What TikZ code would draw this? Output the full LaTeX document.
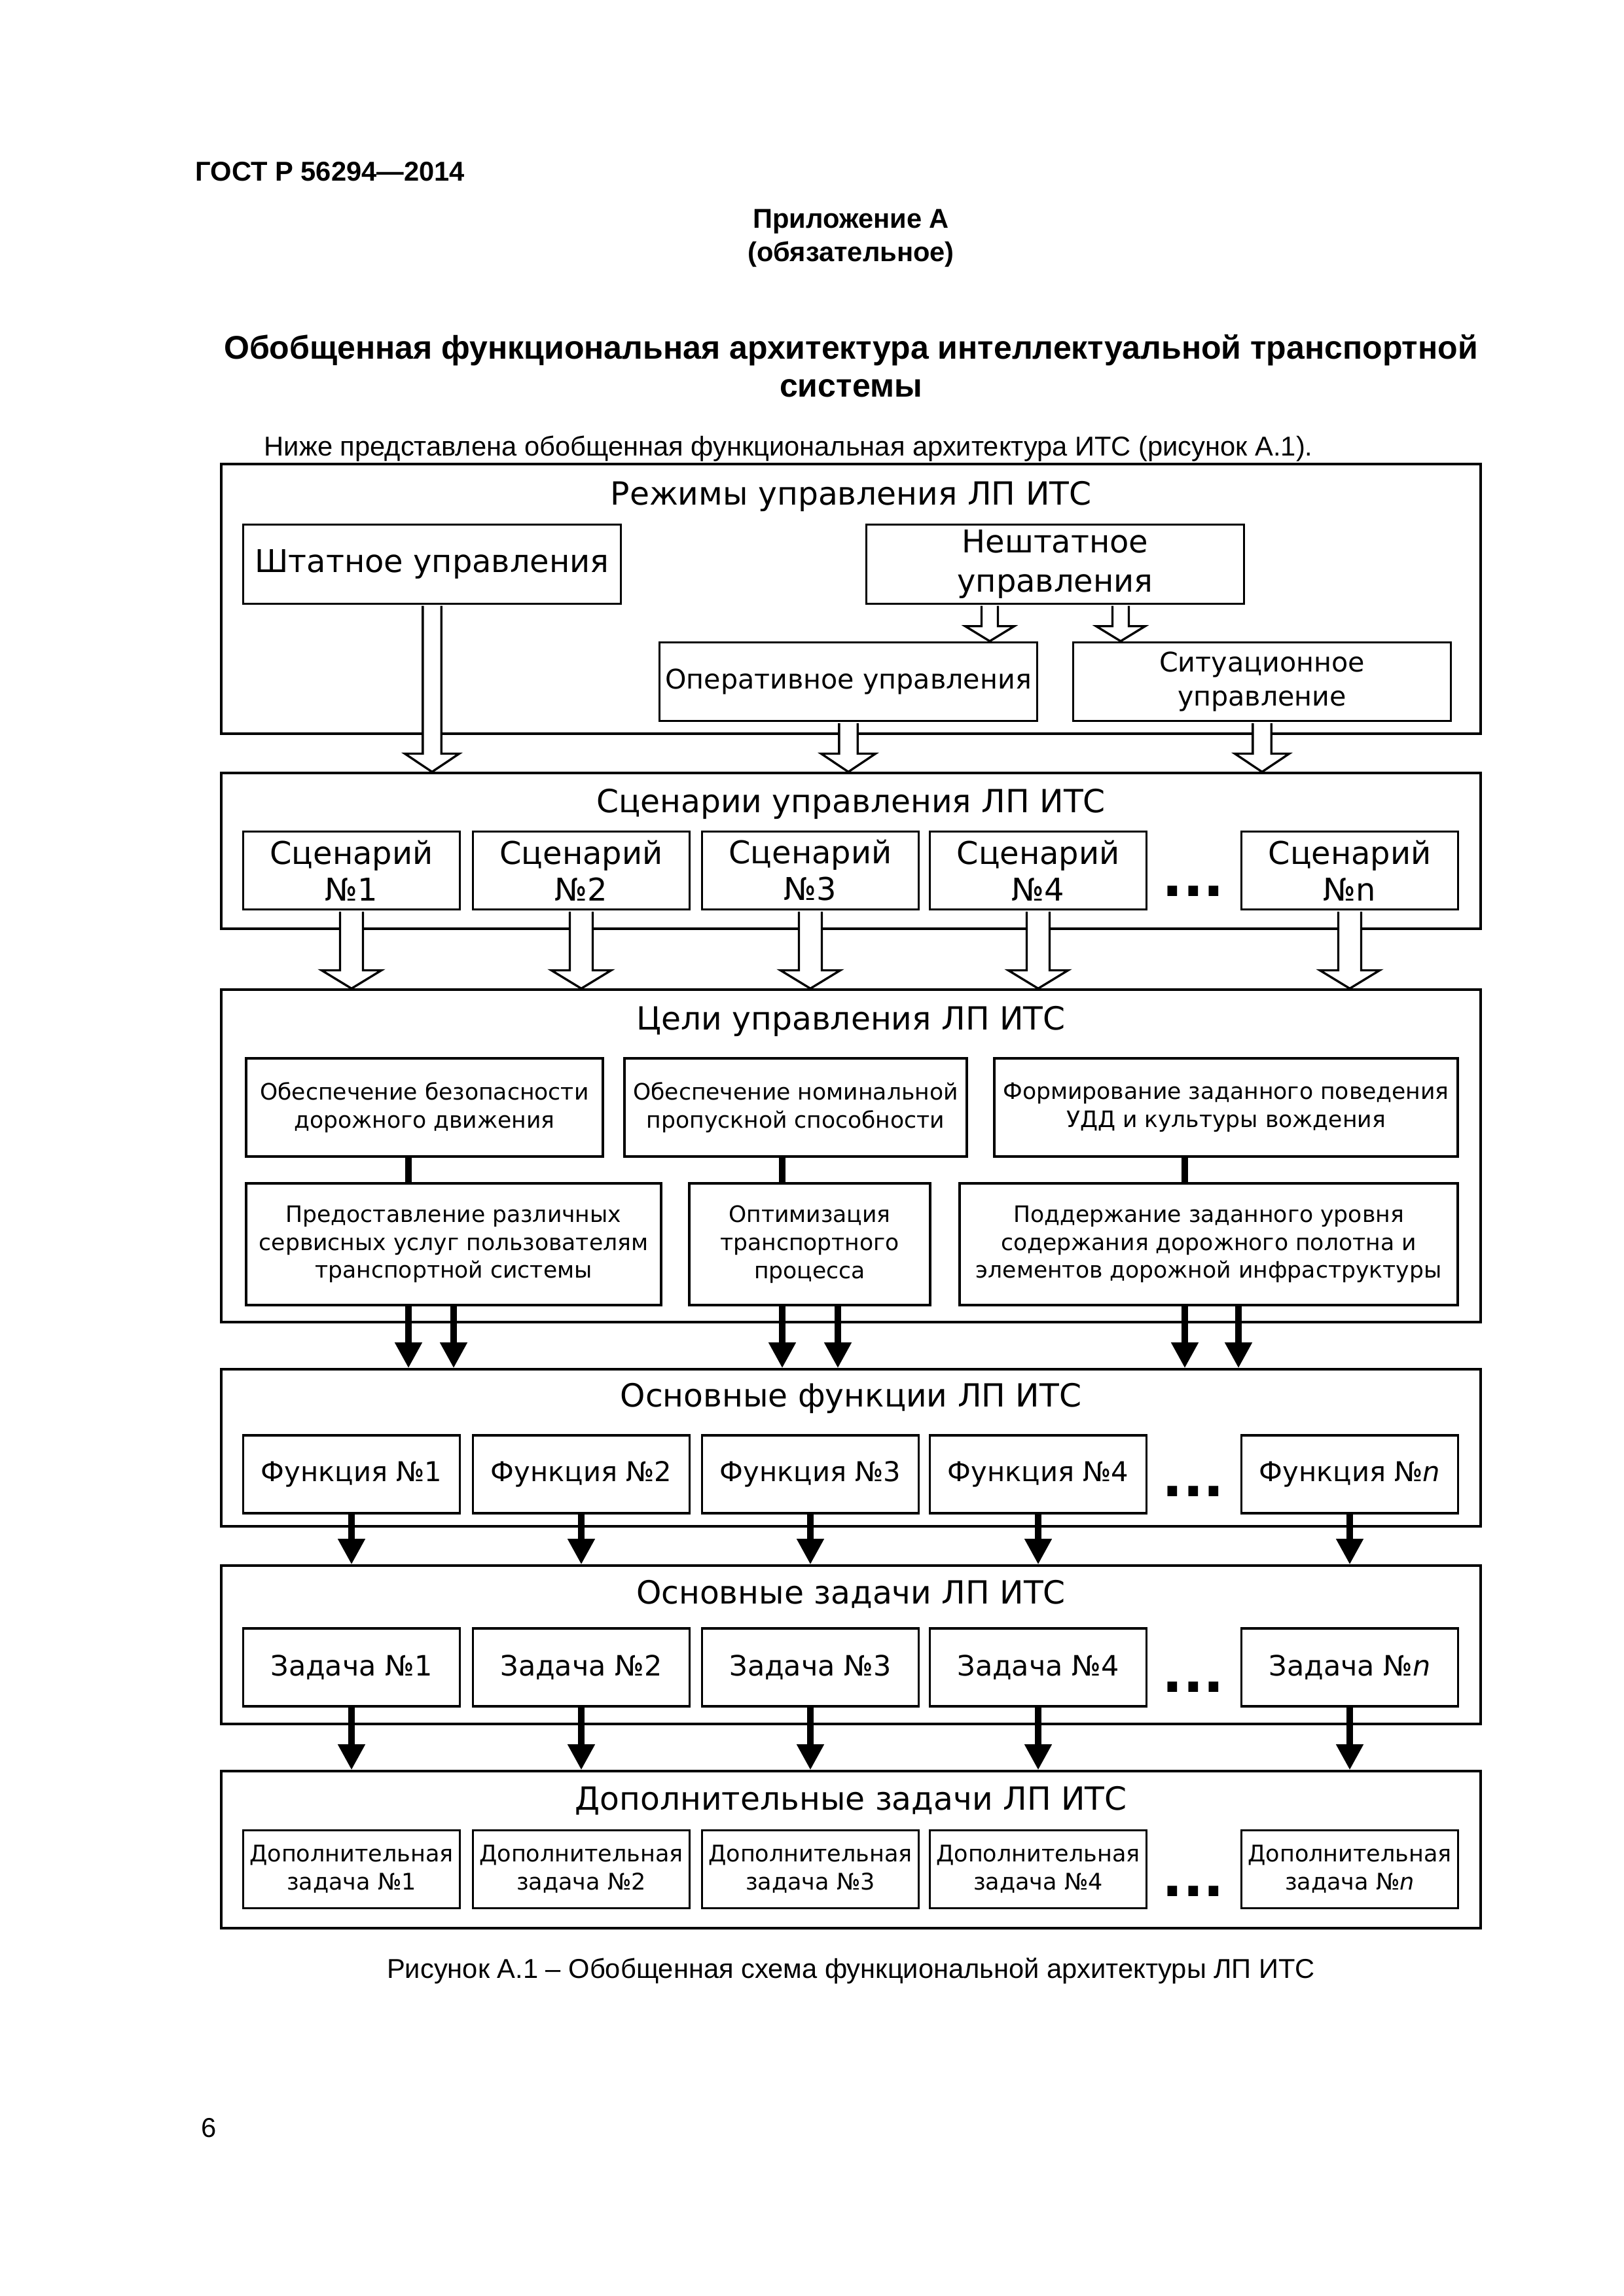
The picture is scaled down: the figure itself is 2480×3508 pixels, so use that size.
\documentclass[tikz,border=0pt]{standalone}
\usepackage{fontspec}
\setmainfont{Liberation Sans}
\newfontfamily\dv{DejaVu Sans}
\usetikzlibrary{arrows.meta,calc}

\begin{document}
\begin{tikzpicture}[x=0.24pt,y=-0.24pt,
	frame/.style={draw,line width=0.8pt,minimum width=461.76pt,inner sep=0pt},
	ttl/.style={font=\dv\fontsize{11.7}{14}\selectfont},
	box/.style={draw,line width=0.8pt,align=center,inner sep=0pt},
	mode/.style={box,minimum width=138.5pt,minimum height=28.9pt},
	cell/.style={box,minimum width=79.4pt,minimum height=28.6pt},
	goal/.style={box,font=\dv\fontsize{8.3}{10.3}\selectfont},
	dots/.style={font=\dv\bfseries\fontsize{20}{24}\selectfont,inner sep=0pt},
	arr/.style={line width=2.6pt,-{Triangle[length=9.4pt,width=9.4pt]}},
	link/.style={line width=2.6pt},
	hollow/.style n args={3}{line width=0.8pt,fill=white,to path={
		let \p1=(\tikztostart), \p2=(\tikztotarget) in
		(\x1-#1,\y1-0.4pt) -- (\x1-#1,\y2+#3) -- (\x1-#2,\y2+#3) -- (\x1,\y2)
		-- (\x1+#2,\y2+#3) -- (\x1+#1,\y2+#3) -- (\x1+#1,\y1-0.4pt)}}
]
	\useasboundingbox (0,0) rectangle (2480,3508);

	% page text
	\node[anchor=west,inner sep=0pt,font=\bfseries\fontsize{10}{12}\selectfont] (gost) at (298,262) {ГОСТ Р 56294—2014};
	\node[align=center,font=\bfseries\fontsize{10}{12.2}\selectfont] (app) at (1300,364) {Приложение А\\(обязательное)};
	\node[align=center,font=\bfseries\fontsize{12}{13.9}\selectfont] (title) at (1300,559)
		{Обобщенная функциональная архитектура интеллектуальной транспортной\\системы};
	\node[anchor=west,inner sep=0pt,font=\fontsize{10}{12}\selectfont] (intro) at (403,686)
		{Ниже представлена обобщенная функциональная архитектура ИТС (рисунок А.1).};

	% frames
	\node[frame,minimum height=98.88pt] (modes) at (1300,915) {};
	\node[frame,minimum height=57.12pt] (scens) at (1300,1300) {};
	\node[frame,minimum height=121.92pt] (goals) at (1300,1766) {};
	\node[frame,minimum height=57.6pt] (funcs) at (1300,2212) {};
	\node[frame,minimum height=58.08pt] (tasks) at (1300,2513) {};
	\node[frame,minimum height=57.6pt] (extras) at (1300,2826) {};

	\node[ttl] (modesttl) at (1300,758) {Режимы управления ЛП ИТС};
	\node[ttl] (scensttl) at (1300,1228) {Сценарии управления ЛП ИТС};
	\node[ttl] (goalsttl) at (1300,1560) {Цели управления ЛП ИТС};
	\node[ttl] (funcsttl) at (1300,2136) {Основные функции ЛП ИТС};
	\node[ttl] (tasksttl) at (1300,2436) {Основные задачи ЛП ИТС};
	\node[ttl] (extrasttl) at (1300,2751) {Дополнительные задачи ЛП ИТС};

	% modes
	\node[mode,font=\dv\fontsize{11.5}{14.2}\selectfont] (shtat) at (660,862) {Штатное управления};
	\node[mode,font=\dv\fontsize{11.5}{14.2}\selectfont] (nesht) at (1612,862) {Нештатное\\управления};
	\node[mode,font=\dv\fontsize{9.9}{12.4}\selectfont] (oper) at (1296,1041.5) {Оперативное управления};
	\node[mode,font=\dv\fontsize{9.9}{12.4}\selectfont] (sit) at (1928,1041.5) {Ситуационное\\управление};

	% scenarios, functions, tasks
	\foreach \x/\k [count=\i] in {537/1,888/2,1238/3,1586/4,2062/n}{
		\node[cell,font=\dv\fontsize{11.5}{13.5}\selectfont] (sc\i) at (\x,1330) {Сценарий\\№\k};
	}
	\foreach \x/\k [count=\i] in {537/1,888/2,1238/3,1586/4,2062/\textit{n}}{
		\node[cell,font=\dv\fontsize{10}{12}\selectfont] (fn\i) at (\x,2252.5) {Функция №\k};
		\node[cell,font=\dv\fontsize{10.3}{12}\selectfont] (tk\i) at (\x,2547.5) {Задача №\k};
		\node[cell,font=\dv\fontsize{8.4}{10.3}\selectfont] (ex\i) at (\x,2856) {Дополнительная\\задача №\k};
	}
	\node[dots] (scdots) at (1823,1362) {...};
	\node[dots] (fndots) at (1823,2279) {...};
	\node[dots] (tkdots) at (1823,2578) {...};
	\node[dots] (exdots) at (1823,2890) {...};

	% goals
	\node[goal,minimum width=130.8pt,minimum height=36pt] (g1) at (648.5,1692)
		{Обеспечение безопасности\\дорожного движения};
	\node[goal,minimum width=125.5pt,minimum height=36pt] (g2) at (1215.5,1692)
		{Обеспечение номинальной\\пропускной способности};
	\node[goal,minimum width=169.9pt,minimum height=36pt] (g3) at (1873,1692)
		{Формирование заданного поведения\\УДД и культуры вождения};
	\node[goal,minimum width=152.2pt,minimum height=44.6pt] (g4) at (693,1901)
		{Предоставление различных\\сервисных услуг пользователям\\транспортной системы};
	\node[goal,minimum width=88.3pt,minimum height=44.6pt] (g5) at (1237,1901)
		{Оптимизация\\транспортного\\процесса};
	\node[goal,minimum width=182.6pt,minimum height=44.6pt] (g6) at (1846.5,1901)
		{Поддержание заданного уровня\\содержания дорожного полотна и\\элементов дорожной инфраструктуры};

	\coordinate (x1) at (624,0);
	\coordinate (x2) at (693,0);
	\coordinate (x3) at (1195,0);
	\coordinate (x4) at (1280,0);
	\coordinate (x5) at (1810,0);
	\coordinate (x6) at (1892,0);

	% hollow arrows
	\draw[hollow={3pt}{9pt}{5.5pt}] ([xshift=-24pt]nesht.south) to ([xshift=-24pt]nesht.south |- oper.north);
	\draw[hollow={3pt}{9pt}{5.5pt}] ([xshift=24pt]nesht.south) to ([xshift=24pt]nesht.south |- sit.north);
	\draw[hollow={3.4pt}{10pt}{6.7pt}] (shtat.south) to (shtat.south |- scens.north);
	\draw[hollow={3.4pt}{10pt}{6.7pt}] (oper.south) to (oper.south |- scens.north);
	\draw[hollow={3.4pt}{10pt}{6.7pt}] (sit.south) to (sit.south |- scens.north);
	\foreach \i in {1,...,5}
		\draw[hollow={4.2pt}{11pt}{6.7pt}] (sc\i.south) to (sc\i.south |- goals.north);

	% black arrows
	\draw[link] (g1.south -| x1) -- (g4.north -| x1);
	\draw[link] (g2.south -| x3) -- (g5.north -| x3);
	\draw[link] (g3.south -| x5) -- (g6.north -| x5);
	\draw[arr] (g4.south -| x1) -- (funcs.north -| x1);
	\draw[arr] (g4.south -| x2) -- (funcs.north -| x2);
	\draw[arr] (g5.south -| x3) -- (funcs.north -| x3);
	\draw[arr] (g5.south -| x4) -- (funcs.north -| x4);
	\draw[arr] (g6.south -| x5) -- (funcs.north -| x5);
	\draw[arr] (g6.south -| x6) -- (funcs.north -| x6);
	\foreach \i in {1,...,5}{
		\draw[arr] (fn\i.south) -- (fn\i.south |- tasks.north);
		\draw[arr] (tk\i.south) -- (tk\i.south |- extras.north);
	}

	% caption
	\node[font=\fontsize{10}{12}\selectfont] (caption) at (1300,3011)
		{Рисунок А.1 – Обобщенная схема функциональной архитектуры ЛП ИТС};
	\node[anchor=west,inner sep=0pt,font=\fontsize{10}{12}\selectfont] (page) at (307,3251) {6};
\end{tikzpicture}
\end{document}
